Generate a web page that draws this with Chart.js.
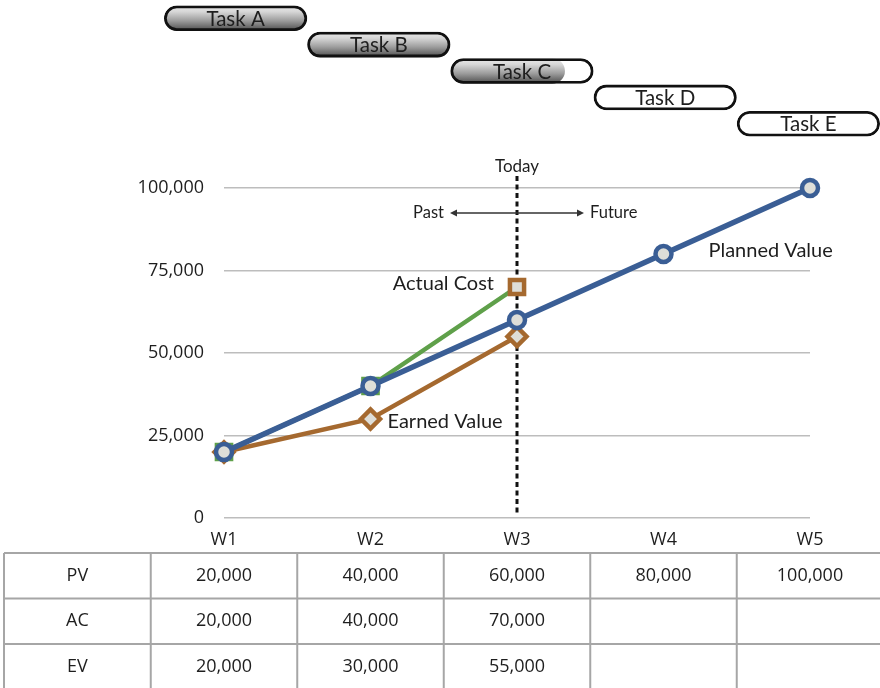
<!DOCTYPE html>
<html>
<head>
<meta charset="utf-8">
<title>Earned Value Overview</title>
<script src="https://cdn.jsdelivr.net/npm/chart.js@4.4.1/dist/chart.umd.min.js"></script>
<style>
  html, body { margin: 0; padding: 0; background: #ffffff; }
  #wrap { position: relative; width: 880px; height: 688px; overflow: hidden; }
  #wrap canvas { position: absolute; left: 0; top: 0; }
</style>
</head>
<body>
<div id="wrap">
  <canvas id="main" width="880" height="688"></canvas>
  <canvas id="gantt" width="880" height="145"></canvas>
</div>
<script>
// ---- Schedule (week units) ----
const taskNames = ['Task A', 'Task B', 'Task C', 'Task D', 'Task E'];
const taskStart = [0, 1, 2, 3, 4];
const taskEnd = [1, 2, 3, 4, 5];
const taskDone = [1, 1, 0.8, 0, 0];

// ---- Earned value series ----
const weeks = ['W1', 'W2', 'W3', 'W4', 'W5'];
const plannedValue = [20000, 40000, 60000, 80000, 100000];
const actualCost = [20000, 40000, 70000, null, null];
const earnedValue = [20000, 30000, 55000, null, null];
const rowLabels = ['PV', 'AC', 'EV'];
const yTicks = [0, 25000, 50000, 75000, 100000];
const todayIndex = 2;

const BLUE = '#3a5e95';
const GREEN = '#5fa04a';
const BROWN = '#a5692f';
const MARKER_FILL = '#deded8';
const INK = '#1e1e1e';
const LABEL_FONT = 'Lato, "Noto Sans", sans-serif';
const NUM_FONT = '"Open Sans", "Noto Sans", sans-serif';

const fmt = v => (v === null || v === undefined) ? '' : v.toLocaleString('en-US');

// ---------------- Gantt strip ----------------
// Completed parts get a vertical metallic gradient, one per bar.
const shadePlugin = {
  id: 'shadeDone',
  beforeDatasetDraw(chart, args) {
    if (args.index !== 1) return;
    const ctx = chart.ctx;
    args.meta.data.forEach(bar => {
      if (!bar || bar.skip || !isFinite(bar.y) || !isFinite(bar.x)) return;
      const h = bar.height / 2;
      const g = ctx.createLinearGradient(0, bar.y - h, 0, bar.y + h);
      g.addColorStop(0, '#ececec');
      g.addColorStop(0.25, '#d6d6d6');
      g.addColorStop(0.6, '#9c9c9c');
      g.addColorStop(1, '#4a4a4a');
      bar.options.backgroundColor = g;
      bar.draw(ctx);
    });
    return false;
  }
};

const taskLabelPlugin = {
  id: 'taskLabels',
  afterDatasetsDraw(chart) {
    const meta = chart.getDatasetMeta(0);
    const ctx = chart.ctx;
    ctx.save();
    ctx.font = '20.5px ' + LABEL_FONT;
    ctx.fillStyle = INK;
    ctx.textAlign = 'center';
    ctx.textBaseline = 'middle';
    meta.data.forEach((bar, i) => {
      const cx = (bar.x + bar.base) / 2;
      ctx.fillText(taskNames[i], cx, bar.y + 1);
    });
    ctx.restore();
  }
};

new Chart(document.getElementById('gantt'), {
  type: 'bar',
  data: {
    labels: taskNames,
    datasets: [
      {
        label: 'Task',
        data: taskNames.map((_, i) => [taskStart[i], taskEnd[i]]),
        backgroundColor: 'rgba(0,0,0,0)',
        borderColor: '#111111',
        borderWidth: 2.8,
        borderRadius: 13,
        borderSkipped: false,
        grouped: false,
        order: 0
      },
      {
        label: 'Done',
        data: taskNames.map((_, i) => taskDone[i] > 0
          ? [taskStart[i], taskStart[i] + taskDone[i] * (taskEnd[i] - taskStart[i])]
          : null),
        backgroundColor: '#a8a8a8',
        borderWidth: 0,
        borderRadius: 13,
        borderSkipped: false,
        grouped: false,
        order: 1
      }
    ]
  },
  options: {
    indexAxis: 'y',
    responsive: false,
    animation: false,
    events: [],
    layout: { padding: { left: 164, right: 0, top: 5, bottom: 8 } },
    barPercentage: 0.97,
    categoryPercentage: 1,
    plugins: { legend: { display: false }, tooltip: { enabled: false } },
    scales: {
      x: { type: 'linear', min: 0, max: 5, display: false },
      y: { type: 'category', display: false }
    }
  },
  plugins: [shadePlugin, taskLabelPlugin]
});

// ---------------- Main chart ----------------
// Text placed next to a data point, offset in pixels.
const seriesNotes = [
  { text: 'Planned Value', ds: 0, idx: 3, dx: 45, dy: -3, align: 'left' },
  { text: 'Actual Cost', ds: 1, idx: 2, dx: -23, dy: -3, align: 'right' },
  { text: 'Earned Value', ds: 2, idx: 1, dx: 17, dy: 3, align: 'left' }
];

const todayPlugin = {
  id: 'todayLine',
  beforeDatasetsDraw(chart) {
    const { ctx, scales: { x, y } } = chart;
    const px = x.getPixelForValue(todayIndex);
    ctx.save();
    ctx.strokeStyle = '#111111';
    ctx.lineWidth = 3;
    ctx.setLineDash([5, 3.5]);
    ctx.beginPath();
    ctx.moveTo(px, 176);
    ctx.lineTo(px, y.getPixelForValue(0) - 4);
    ctx.stroke();
    ctx.setLineDash([]);

    // Today caption
    ctx.fillStyle = INK;
    ctx.font = '17px ' + LABEL_FONT;
    ctx.textAlign = 'center';
    ctx.textBaseline = 'middle';
    ctx.fillText('Today', px, 167);

    // Past <-> Future arrow
    const ay = 213;
    const half = 67;
    ctx.strokeStyle = '#333333';
    ctx.fillStyle = '#333333';
    ctx.lineWidth = 1.3;
    ctx.beginPath();
    ctx.moveTo(px - half + 2, ay);
    ctx.lineTo(px + half - 2, ay);
    ctx.stroke();
    ctx.beginPath();
    ctx.moveTo(px - half, ay);
    ctx.lineTo(px - half + 7, ay - 3.5);
    ctx.lineTo(px - half + 7, ay + 3.5);
    ctx.closePath();
    ctx.fill();
    ctx.beginPath();
    ctx.moveTo(px + half, ay);
    ctx.lineTo(px + half - 7, ay - 3.5);
    ctx.lineTo(px + half - 7, ay + 3.5);
    ctx.closePath();
    ctx.fill();
    ctx.fillStyle = INK;
    ctx.font = '16.5px ' + LABEL_FONT;
    ctx.textAlign = 'right';
    ctx.fillText('Past', px - half - 6, ay);
    ctx.textAlign = 'left';
    ctx.fillText('Future', px + half + 6, ay);
    ctx.restore();
  }
};

const notesPlugin = {
  id: 'seriesNotes',
  afterDatasetsDraw(chart) {
    const ctx = chart.ctx;
    ctx.save();
    ctx.fillStyle = INK;
    ctx.font = '20px ' + LABEL_FONT;
    ctx.textBaseline = 'middle';
    seriesNotes.forEach(n => {
      const pt = chart.getDatasetMeta(n.ds).data[n.idx];
      ctx.textAlign = n.align;
      ctx.fillText(n.text, pt.x + n.dx, pt.y + n.dy);
    });
    ctx.restore();
  }
};

const tablePlugin = {
  id: 'valueTable',
  afterDraw(chart) {
    const { ctx, scales: { x } } = chart;
    const rows = [plannedValue, actualCost, earnedValue];
    const top = 553;
    const rowH = 45.5;
    const leftEdge = 4;
    const rightEdge = chart.width;
    const bounds = [leftEdge];
    for (let i = 0; i < weeks.length; i++) bounds.push(x.getPixelForValue(i - 0.5));
    const bottom = top + rowH * rows.length;

    ctx.save();
    ctx.strokeStyle = '#a6a6a6';
    ctx.lineWidth = 2;
    for (let r = 0; r <= rows.length; r++) {
      const yy = top + r * rowH;
      ctx.beginPath();
      ctx.moveTo(leftEdge, yy);
      ctx.lineTo(rightEdge, yy);
      ctx.stroke();
    }
    bounds.forEach(bx => {
      ctx.beginPath();
      ctx.moveTo(bx, top);
      ctx.lineTo(bx, bottom);
      ctx.stroke();
    });

    ctx.fillStyle = INK;
    ctx.font = '18px ' + NUM_FONT;
    ctx.textAlign = 'center';
    ctx.textBaseline = 'middle';
    rows.forEach((vals, r) => {
      const cy = top + r * rowH + rowH / 2;
      ctx.fillText(rowLabels[r], (bounds[0] + bounds[1]) / 2, cy);
      vals.forEach((v, i) => {
        ctx.fillText(fmt(v), x.getPixelForValue(i), cy);
      });
    });
    ctx.restore();
  }
};

new Chart(document.getElementById('main'), {
  type: 'line',
  data: {
    labels: weeks,
    datasets: [
      {
        label: 'PV',
        data: plannedValue,
        borderColor: BLUE,
        borderWidth: 5.5,
        pointStyle: 'circle',
        pointRadius: 8,
        pointBorderWidth: 4.5,
        pointBackgroundColor: MARKER_FILL,
        pointBorderColor: BLUE,
        clip: false,
        order: 0
      },
      {
        label: 'AC',
        data: actualCost,
        borderColor: GREEN,
        borderWidth: 4.5,
        pointStyle: 'rect',
        pointRadius: 10,
        pointBorderWidth: 4.5,
        pointBackgroundColor: [GREEN, GREEN, MARKER_FILL],
        pointBorderColor: [GREEN, GREEN, BROWN],
        clip: false,
        order: 2
      },
      {
        label: 'EV',
        data: earnedValue,
        borderColor: BROWN,
        borderWidth: 4.5,
        pointStyle: 'rectRot',
        pointRadius: 9.5,
        pointBorderWidth: 4.5,
        pointBackgroundColor: MARKER_FILL,
        pointBorderColor: BROWN,
        clip: false,
        order: 1
      }
    ]
  },
  options: {
    responsive: false,
    animation: false,
    events: [],
    layout: { padding: { left: 0, right: 70, top: 188, bottom: 0 } },
    plugins: { legend: { display: false }, tooltip: { enabled: false } },
    scales: {
      x: {
        type: 'category',
        offset: false,
        grid: { display: false, drawTicks: false },
        border: { display: false },
        ticks: { color: INK, font: { family: NUM_FONT, size: 18 }, padding: 11, maxRotation: 0 },
        afterFit(scale) { scale.height = 170; }
      },
      y: {
        min: 0,
        max: 100000,
        afterBuildTicks(scale) { scale.ticks = yTicks.map(v => ({ value: v })); },
        grid: { color: '#bdbdbd', lineWidth: 1.5, drawTicks: false },
        border: { display: false },
        ticks: { color: INK, font: { family: NUM_FONT, size: 18 }, padding: 20, callback: v => fmt(v) },
        afterFit(scale) { scale.width = 224; }
      }
    }
  },
  plugins: [todayPlugin, notesPlugin, tablePlugin]
});
</script>
</body>
</html>
